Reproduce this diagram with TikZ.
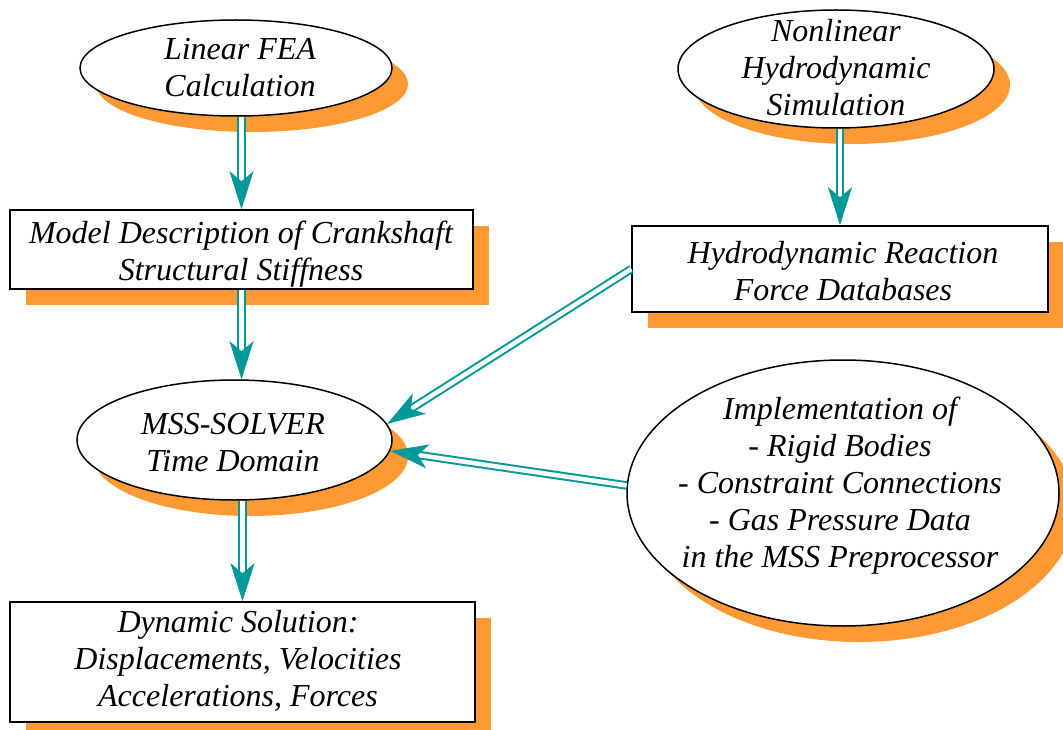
\documentclass[tikz,border=0pt]{standalone}
\usepackage{fontspec}
\setmainfont{Liberation Serif}
\usetikzlibrary{shapes.geometric,shadows,arrows.meta}
\definecolor{shade}{RGB}{255,153,51}
\definecolor{flow}{RGB}{0,153,153}
\begin{document}
\begin{tikzpicture}[x=1pt,y=-1pt,
  base/.style={draw=black, line width=1.5pt, fill=white, inner sep=0pt,
    drop shadow={shadow xshift=16pt, shadow yshift=-16pt, fill=shade, opacity=1}},
  oval/.style={base, ellipse},
  panel/.style={base, rectangle},
  label/.style={font=\itshape\fontsize{32}{37}\selectfont, align=center, inner sep=0pt},
  flowline/.style={draw=flow, line width=2pt, double=white, double distance=4.5pt,
    -{Stealth[length=38pt,width=24pt,inset=10pt]}}]
  \useasboundingbox (0,0) rectangle (1063,730);

  % shapes
  \node[oval, minimum width=312pt, minimum height=96pt] (fea) at (236,68) {};
  \node[oval, minimum width=316pt, minimum height=118pt] (nonlin) at (836,69) {};
  \node[panel, minimum width=463pt, minimum height=79pt] (model) at (241.5,249.5) {};
  \node[panel, minimum width=416pt, minimum height=86pt] (react) at (840,269) {};
  \node[oval, minimum width=315pt, minimum height=120pt] (mss) at (234.5,440) {};
  \node[oval, minimum width=432pt, minimum height=266pt] (impl) at (843,493) {};
  \node[panel, minimum width=465pt, minimum height=120pt] (result) at (242.5,662) {};

  % texts
  \node[label] (feaT) at (240,68) {Linear FEA\\Calculation};
  \node[label] (nonlinT) at (836,68) {Nonlinear\\Hydrodynamic\\Simulation};
  \node[label] (modelT) at (241,254) {Model Description of Crankshaft\\Structural Stiffness};
  \node[label] (reactT) at (843,271) {Hydrodynamic Reaction\\Force Databases};
  \node[label] (mssT) at (233,443) {MSS-SOLVER\\Time Domain};
  \node[label] (implT) at (840,486) {Implementation of\\- Rigid Bodies\\- Constraint Connections\\- Gas Pressure Data\\in the MSS Preprocessor};
  \node[label] (resultT) at (238,661) {Dynamic Solution:\\Displacements, Velocities\\Accelerations, Forces};

  % connectors
  \draw[flowline] (model.north |- fea.south) -- (model.north);
  \draw[flowline] (model.south) -- (model.south |- mss.north);
  \draw[flowline] (react.north |- nonlin.south) -- (react.north);
  \draw[flowline] (react.west) -- (mss.6);
  \draw[flowline] (impl.178.5) -- (mss.-4);
  \draw[flowline] (result.north |- mss.south) -- (result.north);
\end{tikzpicture}
\end{document}
